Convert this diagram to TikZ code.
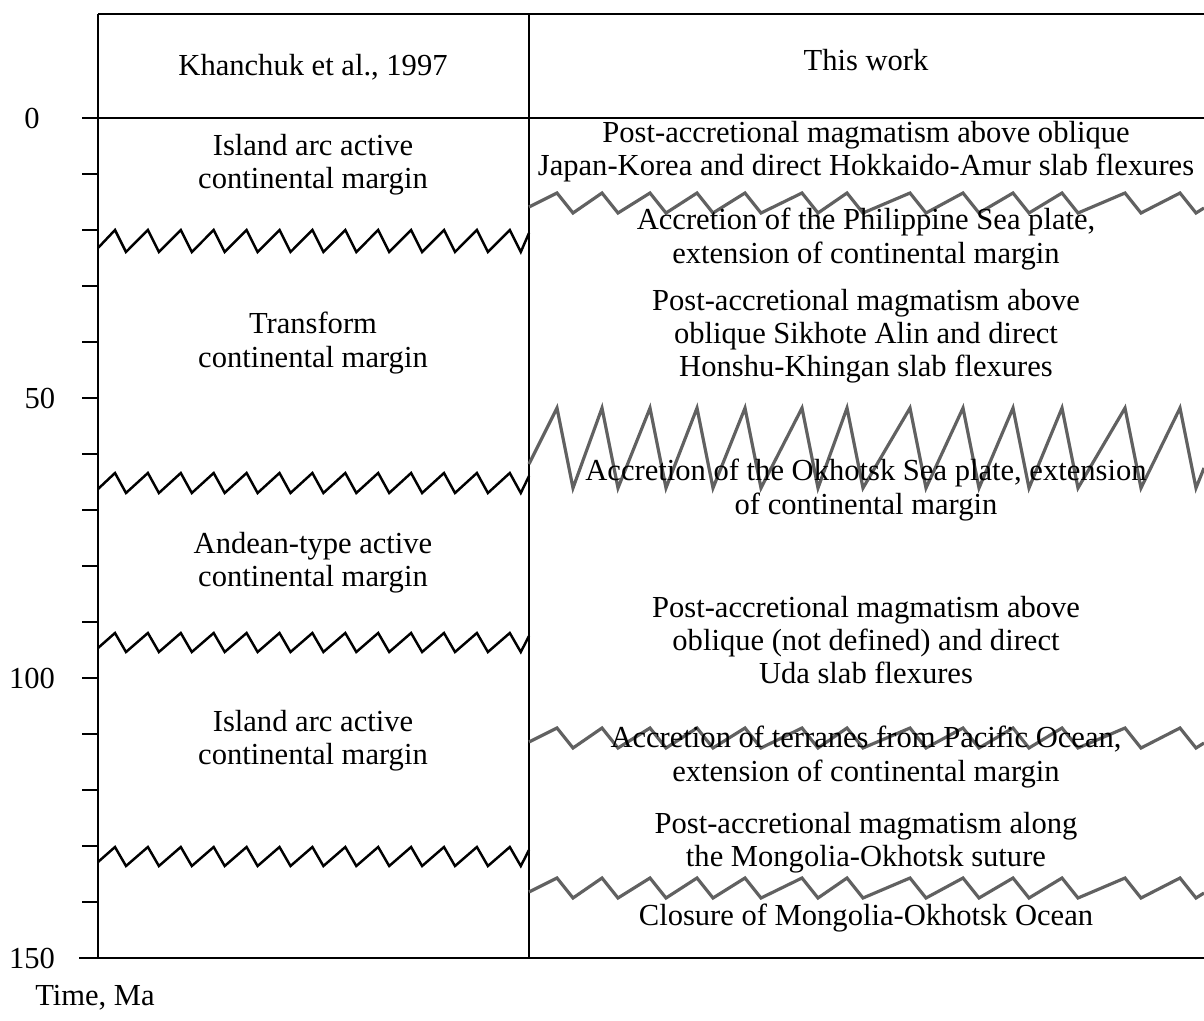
\documentclass[tikz,border=0pt]{standalone}
\usepackage{fontspec}
\setmainfont{Liberation Serif}
\usetikzlibrary{positioning}

\tikzset{
  frame/.style={line width=1.3pt},
  oldzig/.style={line width=1.4pt, line join=miter},
  newzig/.style={line width=1.8pt, black!62, line join=miter},
  lbl/.style={align=center, inner sep=0pt,
    font=\fontsize{17.4}{18.9}\selectfont},
}

% zigzag boundary in the left column: #1 top, #2 bottom (px)
\newcommand{\oldzigline}[2]{%
  \draw[oldzig] (98,#2-4) \foreach \k in {0,...,12} {
      -- ({115+32.9*\k},#1) -- ({126+32.9*\k},#2) } -- (529,#1+3);
}
% zigzag boundary in the right column
\newcommand{\newzigline}[2]{%
  \draw[newzig] (529,{#2-0.3*(#2-#1)})
    \foreach \p in {557,602,650,697,745,802,847,910,963,1013,1062,1125,1180} {
      -- (\p,#1) -- (\p+16,#2) } -- (1204,{#2-0.25*(#2-#1)});
}

\begin{document}
\begin{tikzpicture}[x=0.02cm, y=-0.02cm]
\useasboundingbox (0,0) rectangle (1204,1021);

% Frame
\draw[frame] (98,14) -- (1204,14);
\draw[frame] (82,118) -- (1204,118);
\draw[frame] (79,958) -- (1204,958);
\draw[frame] (98,14) -- (98,958);
\draw[frame] (529,14) -- (529,958);

% Time axis
\foreach \k in {1,...,14} {
    \draw[frame] (82,{118+56*\k}) -- (98,{118+56*\k});
}
\node[lbl] (t0) at (32,118) {0};
\node[lbl] (t50) at (40,398) {50};
\node[lbl] (t100) at (32,678) {100};
\node[lbl] (t150) at (32,958) {150};
\node[lbl] (time) at (95,998) {Time, Ma};

% Headers
\node[lbl] (hold) at (313,67) {Khanchuk et al., 1997};
\node[lbl] (hnew) at (866,60) {This work};

% Khanchuk et al. column
\oldzigline{230}{252}
\oldzigline{473}{493}
\oldzigline{633}{652}
\oldzigline{847}{866}
\node[lbl] (o1) at (313,165) {Island arc active\\continental margin};
\node[lbl] (o2) at (313,343) {Transform\\continental margin};
\node[lbl] (o3) at (313,563) {Andean-type active\\continental margin};
\node[lbl] (o4) at (313,741) {Island arc active\\continental margin};

% This work column
\newzigline{193}{213}
\newzigline{408}{488}
\newzigline{728}{748}
\newzigline{878}{898}
\node[lbl] (n1) at (866,152) {Post-accretional magmatism above oblique\\Japan-Korea and direct Hokkaido-Amur slab flexures};
\node[lbl] (n2) at (866,239) {Accretion of the Philippine Sea plate,\\extension of continental margin};
\node[lbl] (n3) at (866,336) {Post-accretional magmatism above\\oblique Sikhote Alin and direct\\Honshu-Khingan slab flexures};
\node[lbl] (n4) at (866,490) {Accretion of the Okhotsk Sea plate, extension\\of continental margin};
\node[lbl] (n5) at (866,640) {Post-accretional magmatism above\\oblique (not defined) and direct\\Uda slab flexures};
\node[lbl] (n6) at (866,757) {Accretion of terranes from Pacific Ocean,\\extension of continental margin};
\node[lbl] (n7) at (866,843) {Post-accretional magmatism along\\the Mongolia-Okhotsk suture};
\node[lbl] (n8) at (866,918) {Closure of Mongolia-Okhotsk Ocean};

\end{tikzpicture}
\end{document}
